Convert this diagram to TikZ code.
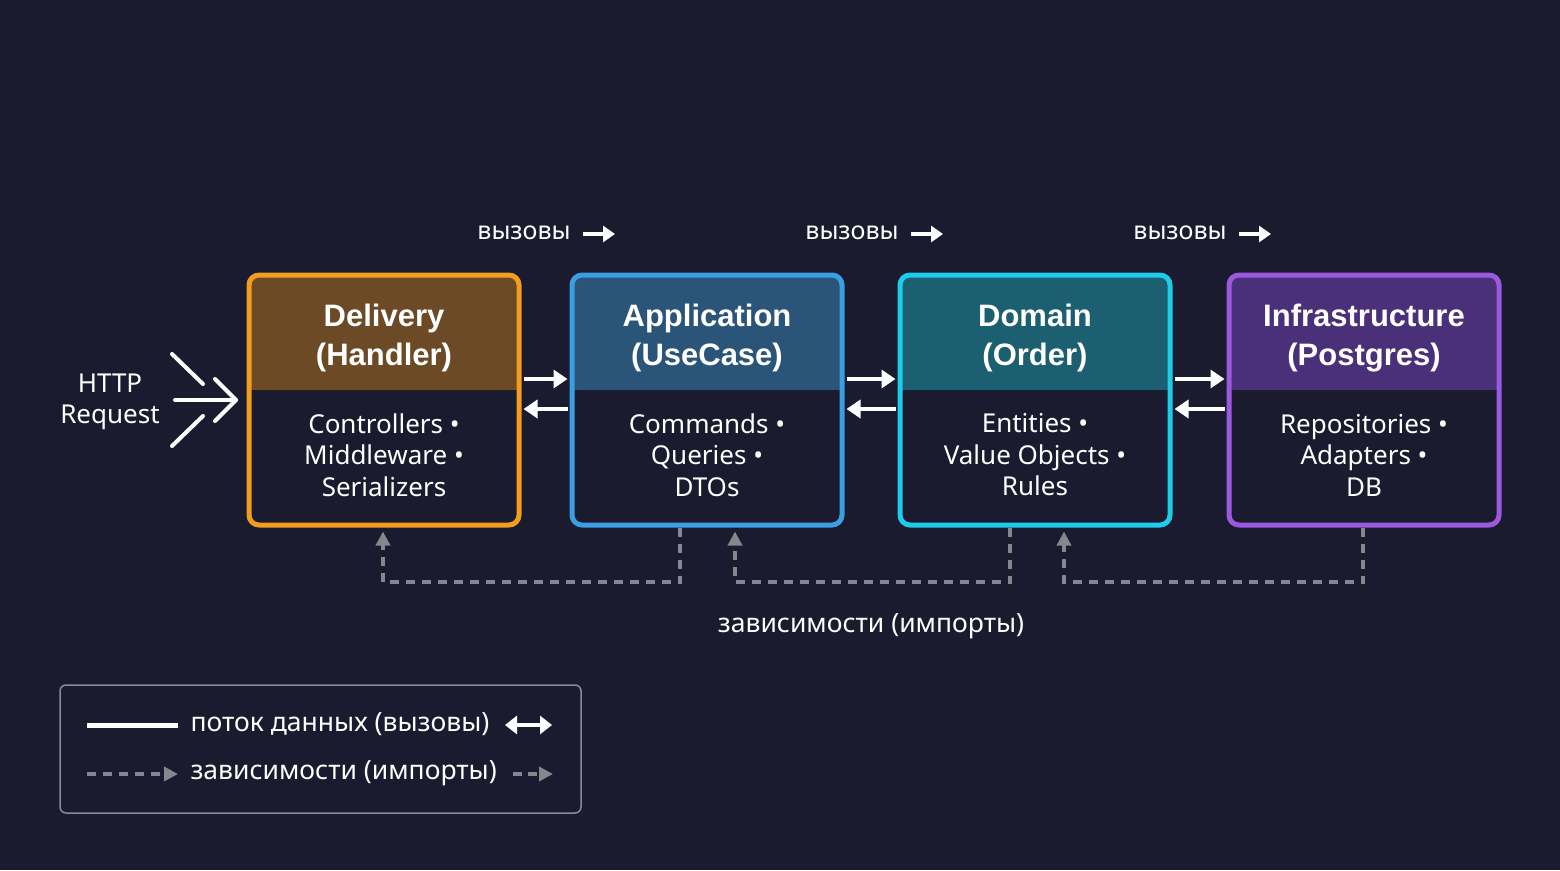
\documentclass[tikz,border=0pt]{standalone}
\usepackage{fontspec}
\setmainfont{Noto Sans}
\newfontfamily\tfont{Liberation Sans}
\usetikzlibrary{arrows.meta,calc}
\definecolor{bg}{HTML}{1A1B2E}
\definecolor{cOr}{HTML}{F39C1E}\definecolor{hOr}{HTML}{6B4A25}
\definecolor{cBl}{HTML}{3A9EE0}\definecolor{hBl}{HTML}{2A5478}
\definecolor{cCy}{HTML}{1ECBE8}\definecolor{hCy}{HTML}{1B5F70}
\definecolor{cPu}{HTML}{9B59E0}\definecolor{hPu}{HTML}{4A3078}
\definecolor{dg}{HTML}{85868E}
\definecolor{lgb}{HTML}{8A8B95}
\newcommand{\layerbox}[7]{% name, cx, col, hcol, title1, title2, body
  \fill[#4,rounded corners=10pt] (#2-135,275) rectangle (#2+135,390);
  \fill[#4] (#2-135,360) rectangle (#2+135,390);
  \node[box,draw=#3] (#1) at (#2,400) {};
  \node[ttl] (#1t) at (#2,338) {#5\\#6};
  \node[bod] (#1b) at (#2,455) {#7};
}
\begin{document}
\begin{tikzpicture}[x=1pt,y=-1pt,
  box/.style={minimum width=270pt,minimum height=250pt,line width=5pt,rounded corners=10pt,inner sep=0pt},
  ttl/.style={text=white,font=\tfont\fontsize{31}{39}\selectfont\bfseries,align=center},
  bod/.style={text=white,font=\fontsize{26}{31.5}\selectfont,align=center},
  call/.style={white,line width=4pt,-{Triangle[length=14pt,width=18pt]}},
  dep/.style={dg,line width=3.5pt,dash pattern=on 9pt off 7pt,-{Triangle[length=14pt,width=14pt]}},
  lbl/.style={text=white,font=\fontsize{25}{30}\selectfont},
]
\fill[bg] (0,0) rectangle (1560,870);
\useasboundingbox (0,0) rectangle (1560,870);
\layerbox{d}{384}{cOr}{hOr}{Delivery}{(Handler)}{Controllers •\\Middleware •\\Serializers}
\layerbox{a}{707}{cBl}{hBl}{Application}{(UseCase)}{Commands •\\Queries •\\DTOs}
\layerbox{o}{1035}{cCy}{hCy}{Domain}{(Order)}{Entities •\\Value Objects •\\Rules}
\layerbox{i}{1364}{cPu}{hPu}{Infrastructure}{(Postgres)}{Repositories •\\Adapters •\\DB}
% calls
\foreach \p/\q in {d/a,a/o,o/i}{
  \draw[call] ([yshift=21pt,xshift=2pt]\p.east) -- ([yshift=21pt,xshift=-2pt]\q.west);
  \draw[call] ([yshift=-9pt,xshift=-2pt]\q.west) -- ([yshift=-9pt,xshift=2pt]\p.east);
}
% labels
\foreach \x/\n in {524/l1,852/l2,1180/l3}{
  \node[lbl,anchor=center] (\n) at (\x,233) {вызовы};
  \coordinate (\n s) at (\x+59,234);
  \coordinate (\n e) at (\x+91,234);
  \draw[white,line width=4pt,-{Triangle[length=12pt,width=16pt]}] (\n s) -- (\n e);
}
% deps
\coordinate (a1) at (680,582); \coordinate (d1) at (383,582);
\coordinate (o1) at (1010,582); \coordinate (a2) at (735,582);
\coordinate (i1) at (1363,582); \coordinate (o2) at (1064,582);
\draw[dep] (a.south -| a1) -- (a1) -- (d1) -- ([yshift=-4pt]d.south -| d1);
\draw[dep] (o.south -| o1) -- (o1) -- (a2) -- ([yshift=-4pt]a.south -| a2);
\draw[dep] (i.south -| i1) -- (i1) -- (o2) -- ([yshift=-4pt]o.south -| o2);
\node[text=white,font=\fontsize{26.5}{30}\selectfont] (deplbl) at (871,626) {зависимости (импорты)};
% HTTP
\node[text=white,font=\fontsize{26}{31.5}\selectfont,align=center] (http) at (110,402) {HTTP\\Request};
\coordinate (h0) at (175,400); \coordinate (h1) at (236,400);
\begin{scope}[white,line width=4pt,line cap=round]
\draw (172,354) -- (203,384);
\draw (172,446) -- (203,416);
\draw (h0) -- (h1);
\draw[line join=round] (215,379) -- (h1) -- (215,421);
\end{scope}
% legend
\node[draw=lgb,line width=1.5pt,rounded corners=6pt,minimum width=521pt,minimum height=128pt,inner sep=0pt] (leg) at (320.5,749) {};
\coordinate (la) at (87,725); \coordinate (lb) at (178,725);
\draw[white,line width=5pt] (la) -- (lb);
\node[text=white,anchor=west,font=\fontsize{26.5}{30}\selectfont] (lt1) at (187,724) {поток данных (вызовы)};
\coordinate (lc) at (505,725); \coordinate (ld) at (552,725);
\draw[white,line width=4pt,{Triangle[length=12pt,width=18pt]}-{Triangle[length=12pt,width=18pt]}] (lc) -- (ld);
\coordinate (le) at (87,774); \coordinate (lf) at (178,774);
\draw[dep] (le) -- (lf);
\node[text=white,anchor=west,font=\fontsize{26.5}{30}\selectfont] (lt2) at (187,773) {зависимости (импорты)};
\coordinate (lg) at (513,774); \coordinate (lh) at (553,774);
\draw[dep,dash pattern=on 9pt off 6pt] (lg) -- (lh);
\end{tikzpicture}
\end{document}
